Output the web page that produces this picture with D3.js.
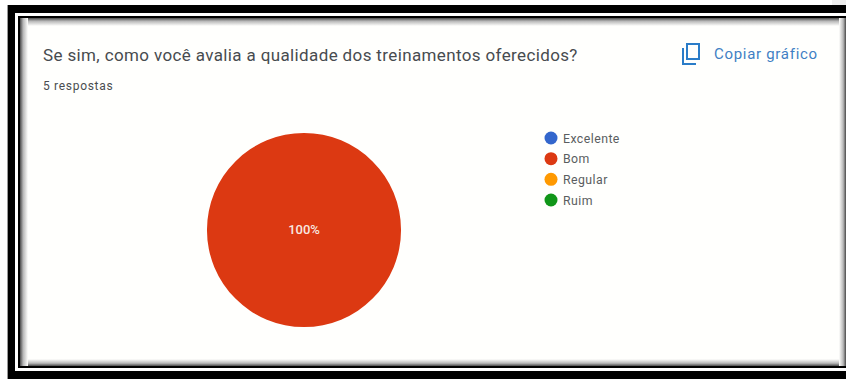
<!DOCTYPE html>
<html lang="pt">
<head>
<meta charset="utf-8">
<title>Qualidade dos treinamentos</title>
<script src="https://cdn.jsdelivr.net/npm/d3@7/dist/d3.min.js"></script>
<style>
  html, body { margin: 0; padding: 0; background: #fff; }
  svg { display: block; font-family: Roboto, Arial, sans-serif; }
</style>
</head>
<body>
<svg id="chart" width="846" height="379"></svg>
<script>
const categories = ["Excelente", "Bom", "Regular", "Ruim"];
const responses = [0, 5, 0, 0];
const sliceColors = ["#3366cc", "#dc3912", "#ff9900", "#109618"];
const questionTitle = "Se sim, como você avalia a qualidade dos treinamentos oferecidos?";
const responseCount = "5 respostas";
const copyLabel = "Copiar gráfico";

const svg = d3.select("#chart");
const W = 846, H = 379;

// Double black frame with the soft inner shadow of the card
const defs = svg.append("defs");
const shadow = (id, x1, y1, x2, y2) => {
  const g = defs.append("linearGradient").attr("id", id)
    .attr("x1", x1).attr("y1", y1).attr("x2", x2).attr("y2", y2);
  g.append("stop").attr("offset", 0).attr("stop-color", "#4a4a4a");
  g.append("stop").attr("offset", 0.4).attr("stop-color", "#b8b8b8");
  g.append("stop").attr("offset", 1).attr("stop-color", "#fffffd");
};
shadow("shTop", 0, 0, 0, 1);
shadow("shBottom", 0, 1, 0, 0);
shadow("shLeft", 0, 0, 1, 0);
shadow("shRight", 1, 0, 0, 0);

svg.append("rect").attr("width", W).attr("height", H).attr("fill", "#fff");
svg.append("rect").attr("x", 832).attr("y", 0).attr("width", 14).attr("height", 5).attr("fill", "#eeeeee");
svg.append("rect").attr("x", 7).attr("y", 5).attr("width", 1).attr("height", H - 5).attr("fill", "#999");
svg.append("rect").attr("x", 8).attr("y", 5).attr("width", W - 8).attr("height", H - 5).attr("fill", "#000");
svg.append("rect").attr("x", 15).attr("y", 13).attr("width", W - 15).attr("height", 358).attr("fill", "#fff");
svg.append("rect").attr("x", 18).attr("y", 16).attr("width", W - 18).attr("height", 352).attr("fill", "#000");

const card = { x: 20, y: 18, h: 348 };
svg.append("rect").attr("x", card.x).attr("y", card.y).attr("width", W - card.x).attr("height", card.h).attr("fill", "#fffffd");
svg.append("rect").attr("x", card.x).attr("y", card.y).attr("width", W - card.x).attr("height", 8).attr("fill", "url(#shTop)");
svg.append("rect").attr("x", card.x).attr("y", card.y + card.h - 7).attr("width", W - card.x).attr("height", 7).attr("fill", "url(#shBottom)");
svg.append("rect").attr("x", card.x).attr("y", card.y).attr("width", 8).attr("height", card.h).attr("fill", "url(#shLeft)");
svg.append("rect").attr("x", 839).attr("y", card.y).attr("width", 7).attr("height", card.h).attr("fill", "url(#shRight)");

// Heading
svg.append("text").attr("x", 43).attr("y", 61)
  .attr("font-size", 17).attr("letter-spacing", 0.37).attr("fill", "#474b4f").text(questionTitle);
svg.append("text").attr("x", 43).attr("y", 90)
  .attr("font-size", 12).attr("letter-spacing", 0.7).attr("fill", "#4a4d50").text(responseCount);

// Copy action: two overlapping sheets and its label
const icon = svg.append("g").attr("fill", "none").attr("stroke", "#2a7cc8").attr("stroke-width", 2);
icon.append("rect").attr("x", 687).attr("y", 44).attr("width", 12).attr("height", 15);
icon.append("path").attr("d", "M683 48V64H696");
svg.append("text").attr("x", 714).attr("y", 59)
  .attr("font-size", 15).attr("letter-spacing", 0.7).attr("font-weight", 400).attr("fill", "#3f7fc4").text(copyLabel);

// Pie
const pieGen = d3.pie().value(d => d).sort(null);
const arc = d3.arc().innerRadius(0).outerRadius(97);
const total = d3.sum(responses);
const colorScale = d3.scaleOrdinal().domain(categories).range(sliceColors);
const pieGroup = svg.append("g").attr("transform", "translate(304,230)");
const arcs = pieGen(responses);
pieGroup.selectAll("path").data(arcs).join("path")
  .attr("d", arc)
  .attr("fill", (d, i) => colorScale(categories[i]));
pieGroup.selectAll("text").data(arcs.filter(d => d.value > 0)).join("text")
  .attr("text-anchor", "middle").attr("y", 3.5)
  .attr("font-size", 13).attr("font-weight", 500).attr("fill", "#f8e8e0")
  .text(d => d3.format(".0%")(d.value / total));

// Legend
const legendY = d3.scalePoint().domain(categories).range([138, 200]);
const legend = svg.append("g").selectAll("g").data(categories).join("g")
  .attr("transform", d => `translate(0,${legendY(d)})`);
legend.append("circle").attr("cx", 551).attr("r", 6.5).attr("fill", d => colorScale(d));
legend.append("text").attr("x", 563).attr("y", 4.5)
  .attr("font-size", 12.3).attr("letter-spacing", 0.45).attr("fill", "#5a5d60").text(d => d);
</script>
</body>
</html>
